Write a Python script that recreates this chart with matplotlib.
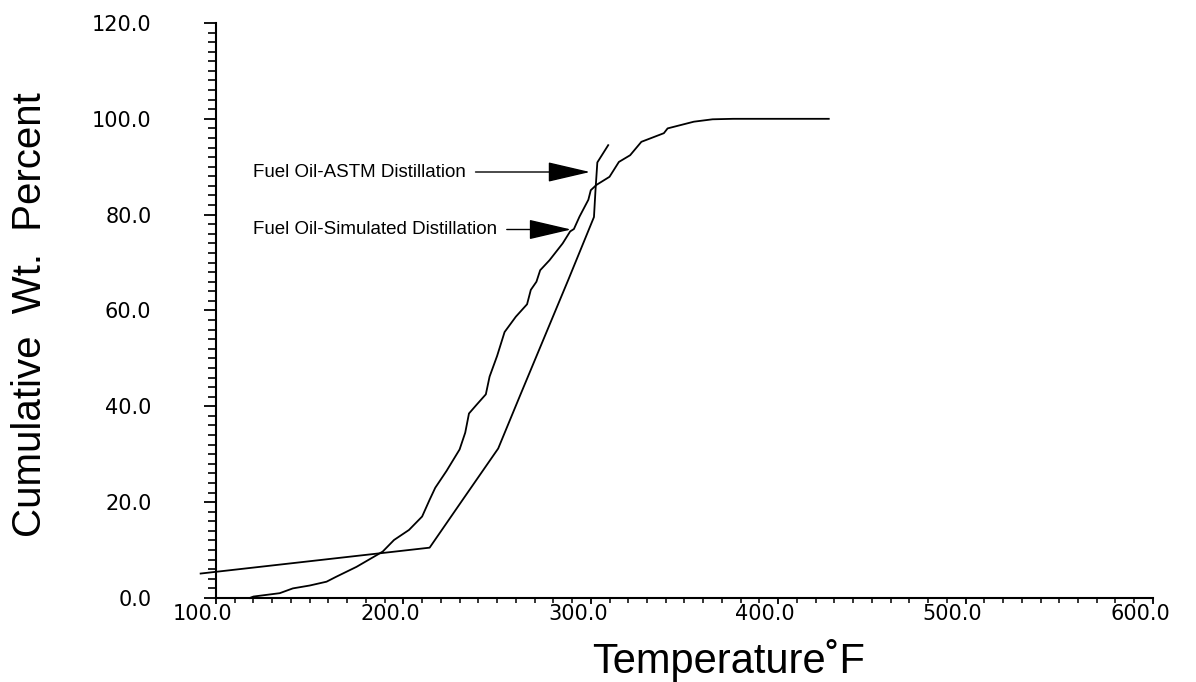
"""
Cumulative wt. percent vs temperature for fuel oil: ASTM vs simulated distillation.
"""

import matplotlib
matplotlib.use("Agg")
import matplotlib.pyplot as plt
import matplotlib.transforms as mtransforms
from matplotlib.ticker import MultipleLocator

# ASTM distillation curve (temperature F, cumulative wt %)
astm_temp = [91.8, 214.0, 232.0, 250.6, 262.0, 288.0, 301.7, 302.5, 303.5, 309.3]
astm_wt = [5.1, 10.5, 20.7, 31.2, 42.0, 66.4, 79.5, 85.0, 90.9, 94.5]

# Simulated distillation curve
sim_temp = [118, 120, 134, 141, 150, 159, 164, 175, 186, 189, 195, 203, 210, 214,
            217, 223, 230, 233, 235, 239, 244, 246, 250, 254, 260, 266, 268, 271,
            273, 278, 285, 289, 291, 294, 298.7, 300, 303, 310, 315, 321, 327, 339,
            341, 355, 365, 376, 427]
sim_wt = [0.0, 0.3, 1.0, 2.0, 2.6, 3.4, 4.4, 6.5, 9.0, 9.7, 12.1, 14.2, 17.0, 20.5,
          23.0, 26.5, 31.0, 34.5, 38.5, 40.3, 42.5, 46.2, 50.5, 55.5, 58.7, 61.3, 64.3, 66.0,
          68.4, 70.5, 74.0, 76.5, 77.0, 79.6, 83.1, 85.1, 86.2, 87.9, 91.0, 92.4, 95.2, 97.0,
          98.0, 99.4, 99.9, 100.0, 100.0]

x_ticks = [100.0, 200.0, 300.0, 400.0, 500.0, 600.0]
y_ticks = [0.0, 20.0, 40.0, 60.0, 80.0, 100.0, 120.0]

fig = plt.figure(figsize=(11.96, 6.82), dpi=100)
ax = fig.add_axes([0.1806, 0.1232, 0.7834, 0.8431])

ax.plot(astm_temp, astm_wt, color="black", lw=1.3, clip_on=False)
ax.plot(sim_temp, sim_wt, color="black", lw=1.3, clip_on=False)

ax.set_xlim(100, 600)
ax.set_ylim(0, 120)

ax.spines["top"].set_visible(False)
ax.spines["right"].set_visible(False)
ax.spines["left"].set_linewidth(1.5)
ax.spines["bottom"].set_linewidth(1.5)

ax.set_xticks(x_ticks)
ax.set_xticklabels(["%.1f" % v for v in x_ticks])
ax.set_yticks(y_ticks)
ax.set_yticklabels(["%.1f" % v for v in y_ticks])
ax.xaxis.set_minor_locator(MultipleLocator(10))
ax.yaxis.set_minor_locator(MultipleLocator(2))

ax.tick_params(axis="y", which="major", direction="out", length=8.5, width=1.3,
               pad=38, labelsize=15)
ax.tick_params(axis="y", which="minor", direction="out", length=6, width=1.2)
ax.tick_params(axis="x", which="major", direction="out", length=4, width=1.3,
               pad=0.5, labelsize=15)
ax.tick_params(axis="x", which="minor", direction="out", length=3.5, width=1.1)

# x tick labels sit a bit left of their ticks in the original
offset = mtransforms.ScaledTranslation(-13 / 100, 0, fig.dpi_scale_trans)
for lbl in ax.get_xticklabels():
    lbl.set_transform(lbl.get_transform() + offset)

ax.set_ylabel("Cumulative  Wt.  Percent", fontsize=29, family="Liberation Sans", va="center")
ax.set_xlabel("Temperature˚F", fontsize=30, family="Liberation Sans", va="center")
ax.yaxis.set_label_coords(-0.1985, 0.492)
ax.xaxis.set_label_coords(0.5475, -0.108)

arrow_kw = dict(arrowstyle="-|>,head_length=1.5,head_width=0.35", color="black",
                lw=1.0, mutation_scale=18, shrinkA=5, shrinkB=0, relpos=(1.0, 0.5))
ax.annotate("Fuel Oil-ASTM Distillation", xy=(299.6, 88.9), xytext=(119.7, 88.9),
            fontsize=13.5, family="Liberation Sans", ha="left", va="center",
            arrowprops=arrow_kw)
ax.annotate("Fuel Oil-Simulated Distillation", xy=(289.5, 76.9), xytext=(119.7, 76.9),
            fontsize=13.5, family="Liberation Sans", ha="left", va="center",
            arrowprops=arrow_kw)

plt.savefig("out.png", dpi=100)
